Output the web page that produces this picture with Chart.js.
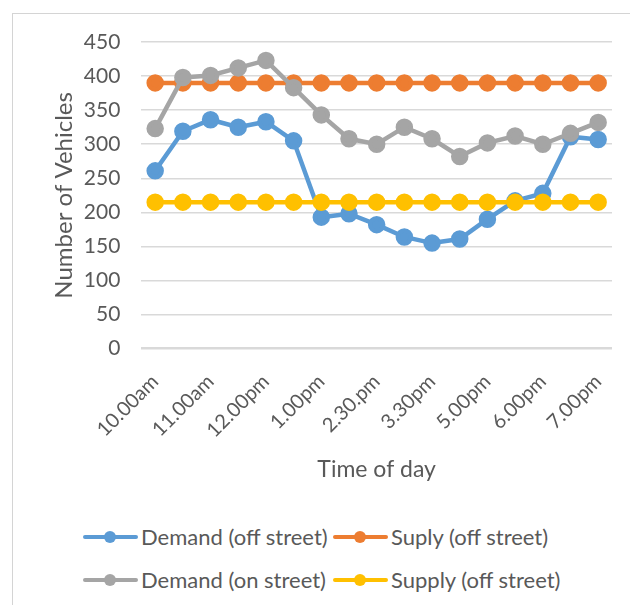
<!DOCTYPE html>
<html>
<head>
<meta charset="utf-8">
<script src="https://cdn.jsdelivr.net/npm/chart.js@4"></script>
<style>
  html, body { margin: 0; padding: 0; background: #fff; }
  body { width: 630px; height: 605px; position: relative; overflow: hidden; font-family: Lato, "Noto Sans", sans-serif; }
  #frame { position: absolute; left: 12px; top: 13px; width: 700px; height: 700px; border: 1px solid #d4d4d4; box-sizing: border-box; }
  #wrap { position: absolute; left: 0; top: 0; width: 630px; height: 500px; }
  #legend { position: absolute; left: 83px; top: 515px; width: 540px; color: #595959; font-size: 22px; }
  .row { display: flex; height: 43px; align-items: center; white-space: nowrap; }
  .item { display: flex; align-items: center; }
  .item:first-child { width: 250px; }
  .mark { position: relative; width: 55px; height: 12px; margin-right: 3px; flex: none; }
  .mark .ln { position: absolute; left: 0; right: 0; top: 4px; height: 4px; border-radius: 2px; }
  .mark .pt { position: absolute; left: 21px; top: 0; width: 12px; height: 12px; border-radius: 50%; }
</style>
</head>
<body>
<div id="frame"></div>
<div id="wrap"><canvas id="chart" width="630" height="500"></canvas></div>
<div id="legend"></div>
<script>
(() => {
  const tickLabels = [
    "10.00am", "", "11.00am", "", "12.00pm", "", "1.00pm", "", "2.30.pm",
    "", "3.30pm", "", "5.00pm", "", "6.00pm", "", "7.00pm"
  ];
  const demandOff = [261, 319, 336, 325, 333, 305, 193, 198, 182, 164, 155, 161, 190, 217, 228, 311, 307];
  const suplyOff = [390, 390, 390, 390, 390, 390, 390, 390, 390, 390, 390, 390, 390, 390, 390, 390, 390];
  const demandOn = [323, 398, 401, 412, 423, 383, 343, 308, 300, 325, 308, 282, 302, 312, 300, 316, 332];
  const supplyOff = [215, 215, 215, 215, 215, 215, 215, 215, 215, 215, 215, 215, 215, 215, 215, 215, 215];
  const seriesNames = ["Demand (off street)", "Suply (off street)", "Demand (on street)", "Supply (off street)"];

  const COLORS = {
    blue: "#5b9bd5",
    orange: "#ed7d31",
    gray: "#a5a5a5",
    yellow: "#ffc000",
    text: "#595959",
    grid: "#d9d9d9"
  };

  const FONT = "Lato, 'Noto Sans', sans-serif";

  function series(label, data, color, order) {
    return {
      label,
      data,
      borderColor: color,
      backgroundColor: color,
      pointBackgroundColor: color,
      pointBorderColor: color,
      borderWidth: 4.5,
      pointRadius: 6.5,
      pointHoverRadius: 6.5,
      tension: 0,
      order
    };
  }

  // order: yellow drawn last (on top), like the original
  const datasets = [
    series(seriesNames[0], demandOff, COLORS.blue, 4),
    series(seriesNames[1], suplyOff, COLORS.orange, 3),
    series(seriesNames[2], demandOn, COLORS.gray, 2),
    series(seriesNames[3], supplyOff, COLORS.yellow, 1)
  ];

  new Chart(document.getElementById("chart"), {
    type: "line",
    data: { labels: tickLabels, datasets },
    options: {
      responsive: false,
      animation: false,
      layout: { padding: { left: 50, right: 18, top: 42, bottom: 17 } },
      plugins: { legend: { display: false }, tooltip: { enabled: false } },
      scales: {
        x: {
          offset: true,
          grid: { display: false },
          border: { display: false },
          ticks: {
            autoSkip: false,
            maxRotation: 45,
            minRotation: 45,
            color: COLORS.text,
            font: { family: FONT, size: 20 },
            padding: 13
          },
          title: {
            display: true,
            text: "Time of day",
            color: COLORS.text,
            font: { family: FONT, size: 23 },
            padding: { top: 0, bottom: 0 }
          }
        },
        y: {
          min: 0,
          max: 450,
          border: { display: false },
          grid: {
            color: COLORS.grid,
            lineWidth: (ctx) => (ctx.tick && ctx.tick.value === 0 ? 2.5 : 1.5),
            drawTicks: false
          },
          ticks: {
            stepSize: 50,
            color: COLORS.text,
            font: { family: FONT, size: 21 },
            padding: 21
          },
          title: {
            display: true,
            text: "Number of Vehicles",
            color: COLORS.text,
            font: { family: FONT, size: 24 },
            padding: { top: 0, bottom: -16 }
          }
        }
      }
    }
  });

  // html legend, two items per row
  const legend = document.getElementById("legend");
  const rows = [[0, 1], [2, 3]];
  rows.forEach((idx) => {
    const row = document.createElement("div");
    row.className = "row";
    idx.forEach((i) => {
      const c = datasets[i].borderColor;
      const item = document.createElement("div");
      item.className = "item";
      item.innerHTML =
        '<span class="mark"><span class="ln" style="background:' + c + '"></span>' +
        '<span class="pt" style="background:' + c + '"></span></span>' +
        "<span>" + seriesNames[i] + "</span>";
      row.appendChild(item);
    });
    legend.appendChild(row);
  });
})();
</script>
</body>
</html>
